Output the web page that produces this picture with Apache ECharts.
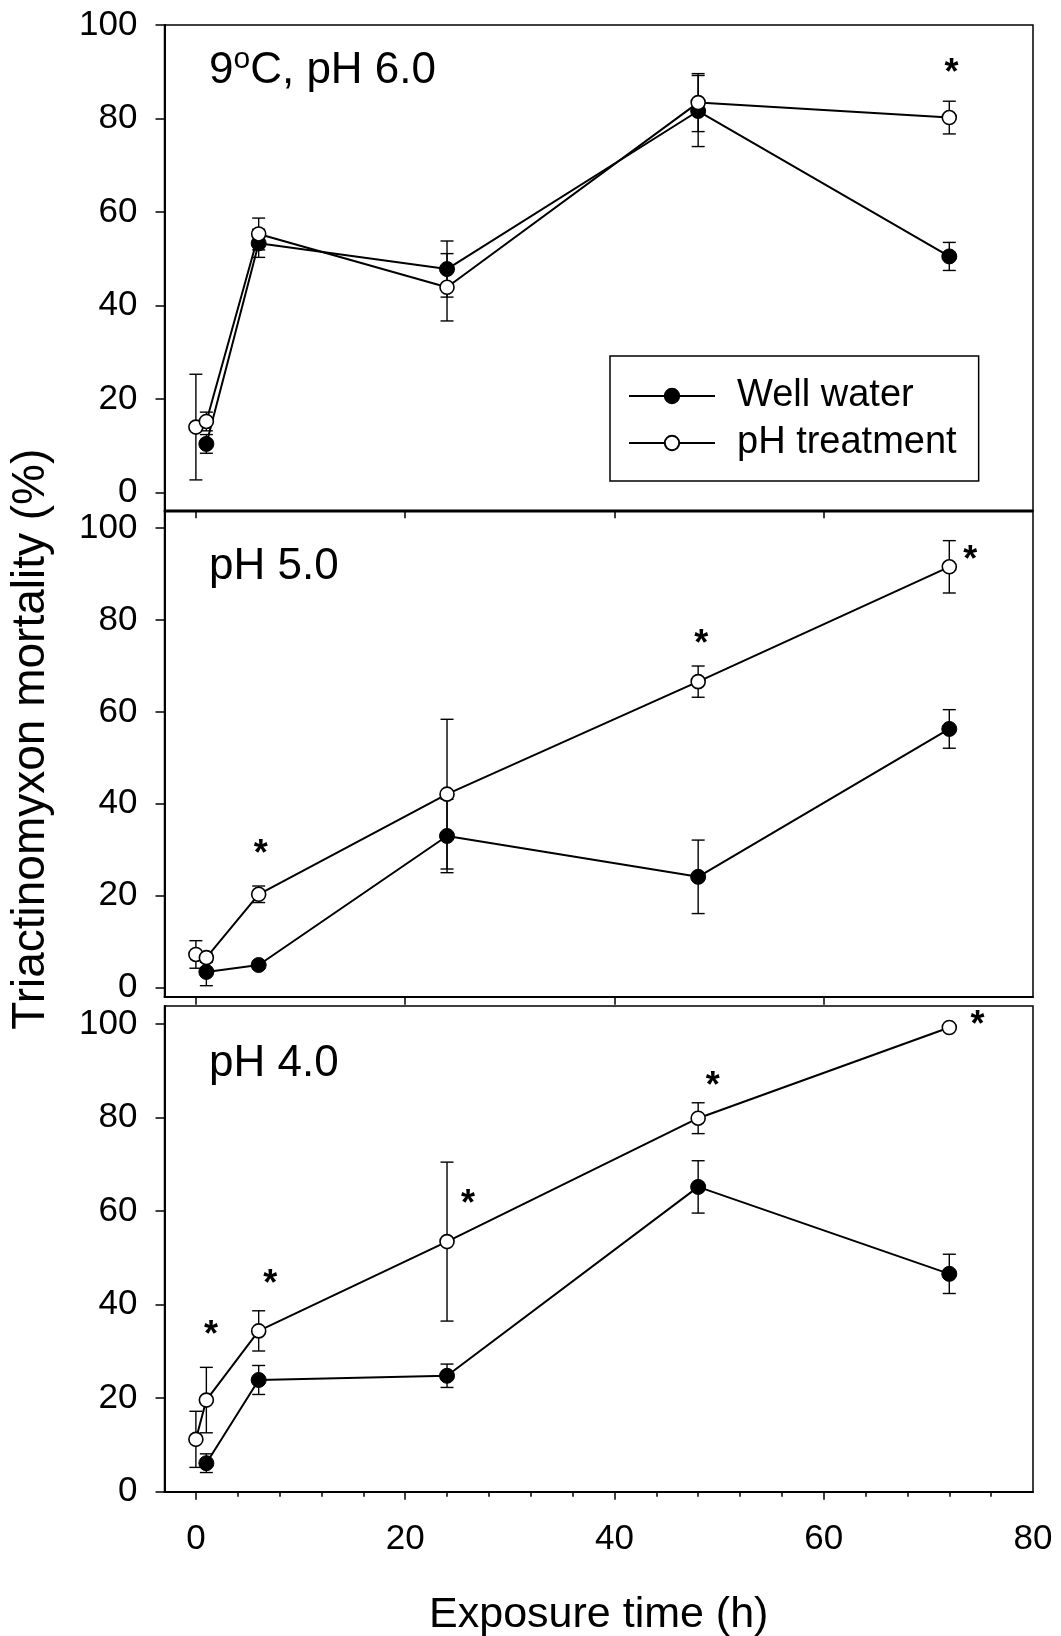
<!DOCTYPE html>
<html>
<head>
<meta charset="utf-8">
<script src="https://cdn.jsdelivr.net/npm/echarts@6/dist/echarts.min.js"></script>
<style>
  html, body { margin: 0; padding: 0; background: #fff; }
  #chart { width: 1061px; height: 1636px; }
</style>
</head>
<body>
<div id="chart"></div>
<script>
// sampling times (h)
const trtHours = [0, 1, 6, 24, 48, 72]
const wellHours = [1, 6, 24, 48, 72]

// 9oC, pH 6.0
const wellP6 = [10.4, 53.3, 47.8, 81.6, 50.5]
const wellP6Err = [2.0, 3.0, 6.0, 7.6, 3.0]
const trtP6 = [14.0, 15.2, 55.3, 43.9, 83.4, 80.2]
const trtP6Err = [11.3, 2.0, 3.4, 7.2, 6.2, 3.5]
const starsP6 = [[72.2, 91.3]]

// pH 5.0
const wellP5 = [3.4, 4.9, 33.0, 24.1, 56.3]
const wellP5Err = [3.0, 0.8, 8.0, 8.0, 4.2]
const trtP5 = [7.2, 6.5, 20.3, 42.1, 66.6, 91.6]
const trtP5Err = [3.0, 1.0, 1.8, 16.3, 3.4, 5.7]
const starsP5 = [[6.2, 30.6], [48.3, 76.4], [74.0, 94.6]]

// pH 4.0
const wellP4 = [6.1, 23.9, 24.8, 65.2, 46.6]
const wellP4Err = [2.0, 3.1, 2.5, 5.6, 4.2]
const trtP4 = [11.2, 19.6, 34.4, 53.5, 79.9, 99.3]
const trtP4Err = [6.0, 7.0, 4.3, 17.0, 3.3, 0]
const starsP4 = [[1.45, 35.0], [7.1, 46.0], [26.0, 63.1], [49.4, 88.2], [74.7, 101.3]]

const panelLabels = ['9{sup|o}C, pH 6.0', 'pH 5.0', 'pH 4.0']
const yTicks = [0, 20, 40, 60, 80, 100]
const xTicks = [0, 20, 40, 60, 80]
const xMinorTicks = [4, 8, 12, 16, 24, 28, 32, 36, 44, 48, 52, 56, 64, 68, 72, 76]

const FONT = '"Liberation Sans", Arial, Helvetica, sans-serif'

const panels = [
  { well: wellP6, wellErr: wellP6Err, trt: trtP6, trtErr: trtP6Err, stars: starsP6,
    grid: { top: 25, height: 485.3 }, yMin: -3.8, yMax: 100, labelTop: 49 },
  { well: wellP5, wellErr: wellP5Err, trt: trtP5, trtErr: trtP5Err, stars: starsP5,
    grid: { top: 511.7, height: 485 }, yMin: -2, yMax: 103.6, labelTop: 544.7 },
  { well: wellP4, wellErr: wellP4Err, trt: trtP4, trtErr: trtP4Err, stars: starsP4,
    grid: { top: 1006, height: 485.7 }, yMin: 0, yMax: 103.9, labelTop: 1042 }
]

function pairs(xs, ys) {
  return xs.map((x, i) => [x, ys[i]])
}
function errData(xs, ys, es) {
  const out = []
  xs.forEach((x, i) => {
    if (es[i] > 0) out.push([x, ys[i] - es[i], ys[i] + es[i]])
  })
  return out
}

function renderErr(params, api) {
  const x = api.value(0)
  const top = api.coord([x, api.value(2)])
  const bot = api.coord([x, api.value(1)])
  const cap = 6.5
  const st = { stroke: '#000', lineWidth: 1.4 }
  return {
    type: 'group',
    children: [
      { type: 'line', shape: { x1: top[0], y1: top[1], x2: bot[0], y2: bot[1] }, style: st },
      { type: 'line', shape: { x1: top[0] - cap, y1: top[1], x2: top[0] + cap, y2: top[1] }, style: st },
      { type: 'line', shape: { x1: bot[0] - cap, y1: bot[1], x2: bot[0] + cap, y2: bot[1] }, style: st }
    ]
  }
}

function renderStar(params, api) {
  const p = api.coord([api.value(0), api.value(1)])
  return {
    type: 'text',
    x: p[0],
    y: p[1] + 8,
    style: {
      text: '*', fontSize: 36, fontWeight: 'bold', fontFamily: FONT,
      fill: '#000', align: 'center', verticalAlign: 'middle'
    }
  }
}

const grid = []
const xAxis = []
const yAxis = []
const series = []
const title = []

panels.forEach((p, i) => {
  const last = i === panels.length - 1
  grid.push({
    left: 164.5, width: 868.5, top: p.grid.top, height: p.grid.height,
    show: true, borderColor: '#000', borderWidth: 1.5,
    containLabel: false, outerBoundsMode: 'none'
  })
  xAxis.push({
    type: 'value', gridIndex: i, min: -3, max: 80, position: 'bottom',
    splitLine: { show: false },
    axisLine: { onZero: false, lineStyle: { color: '#000', width: 2 } },
    axisTick: { customValues: xTicks.slice(0, 4), length: 8, lineStyle: { color: '#000', width: 1.5 } },
    axisLabel: {
      show: last, customValues: xTicks, margin: 30,
      fontSize: 35, fontFamily: FONT, color: '#000'
    },
    name: last ? 'Exposure time (h)' : '',
    nameLocation: 'middle', nameGap: 102,
    nameTextStyle: { fontSize: 43, fontFamily: FONT, color: '#000' }
  })
  yAxis.push({
    type: 'value', gridIndex: i, min: p.yMin, max: p.yMax,
    splitLine: { show: false },
    axisLine: { onZero: false, lineStyle: { color: '#000', width: 2 } },
    axisTick: { customValues: yTicks, length: 9, lineStyle: { color: '#000', width: 1.5 } },
    axisLabel: { customValues: yTicks, margin: 27, fontSize: 35, fontFamily: FONT, color: '#000' },
    name: i === 1 ? 'Triactinomyxon mortality (%)' : '',
    nameLocation: 'middle', nameGap: 110,
    nameTextStyle: { fontSize: 46, fontFamily: FONT, color: '#000', padding: [0, 0, 0, 30] }
  })
  title.push({
    text: panelLabels[i], left: 209, top: p.labelTop, padding: 0,
    textStyle: {
      fontSize: 44, fontWeight: 'normal', fontFamily: FONT, color: '#000', lineHeight: 44,
      rich: { sup: { fontSize: 30, lineHeight: 20, padding: [0, 0, 22, 0], fontFamily: FONT, color: '#000' } }
    }
  })

  series.push({
    type: 'custom', xAxisIndex: i, yAxisIndex: i, renderItem: renderErr, silent: true,
    encode: { x: 0, y: [1, 2] }, clip: false,
    data: errData(wellHours, p.well, p.wellErr).concat(errData(trtHours, p.trt, p.trtErr))
  })
  series.push({
    name: 'Well water', type: 'line', xAxisIndex: i, yAxisIndex: i,
    data: pairs(wellHours, p.well),
    symbol: 'circle', symbolSize: 15,
    lineStyle: { color: '#000', width: 2 },
    itemStyle: { color: '#000', borderColor: '#000', borderWidth: 1 }
  })
  series.push({
    name: 'pH treatment', type: 'line', xAxisIndex: i, yAxisIndex: i,
    data: pairs(trtHours, p.trt),
    symbol: 'circle', symbolSize: 14,
    lineStyle: { color: '#000', width: 2 },
    itemStyle: { color: '#fff', borderColor: '#000', borderWidth: 1.6 }
  })
  series.push({
    type: 'custom', xAxisIndex: i, yAxisIndex: i, renderItem: renderStar, silent: true,
    encode: { x: 0, y: 1 }, clip: false, z: 5,
    data: p.stars
  })
})

// minor ticks of the bottom time axis
xAxis.push({
  type: 'value', gridIndex: 2, min: -3, max: 80, position: 'bottom',
  splitLine: { show: false },
  axisLine: { show: false },
  axisTick: { customValues: xMinorTicks, length: 5, lineStyle: { color: '#000', width: 1.5 } },
  axisLabel: { show: false }
})

const chart = echarts.init(document.getElementById('chart'))
chart.setOption({
  animation: false,
  backgroundColor: '#fff',
  title: title,
  grid: grid,
  xAxis: xAxis,
  yAxis: yAxis,
  legend: {
    data: ['Well water', 'pH treatment'],
    orient: 'vertical',
    left: 610, top: 356,
    padding: [20, 22, 18, 18],
    borderColor: '#000', borderWidth: 1.5,
    itemWidth: 86, itemHeight: 18, itemGap: 7,
    selectedMode: false,
    textStyle: { fontSize: 38, fontFamily: FONT, color: '#000', lineHeight: 40, padding: [0, 0, 0, 17] }
  },
  series: series
})
</script>
</body>
</html>
